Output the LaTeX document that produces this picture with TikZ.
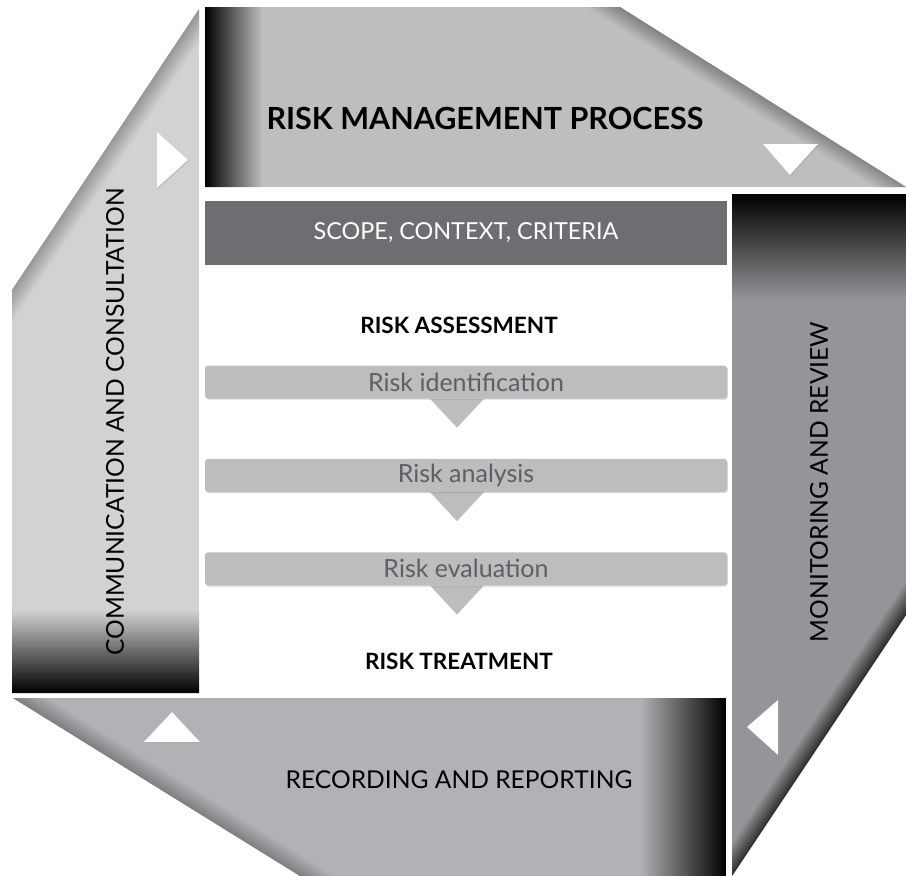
\documentclass[tikz,border=0pt]{standalone}
\usepackage{fontspec}
\setmainfont{Lato}
\usepackage{tikz}
\usetikzlibrary{backgrounds,calc,positioning,shadows}

\definecolor{bandtop}{HTML}{BDBEC0}
\definecolor{bandleft}{HTML}{D1D2D4}
\definecolor{bandright}{HTML}{939598}
\definecolor{bandbottom}{HTML}{B1B2B5}
\definecolor{slantdark}{HTML}{6A6B6D}
\definecolor{scopegray}{HTML}{6D6E71}
\definecolor{stepgray}{HTML}{BCBDBF}
\definecolor{steptext}{HTML}{5E5F62}

\begin{document}
\begin{tikzpicture}[x=1pt,y=-1pt]
  \tikzstyle{stepbox} = [fill=stepgray,rounded corners=3pt,minimum width=522pt,minimum height=33pt,inner sep=0pt,text=steptext,font=\fontsize{25}{27}\selectfont,drop shadow={opacity=.3,shadow xshift=.8pt,shadow yshift=-1.2pt}];
  \tikzstyle{stepdown} = [fill=stepgray];
  \tikzstyle{head} = [font=\fontsize{22.5}{25}\selectfont\bfseries];
  \tikzstyle{bandlabel} = [font=\fontsize{24.6}{27}\selectfont];
  \tikzset{flowtip/.style={fill=white,drop shadow={opacity=.35,shadow xshift=.8pt,shadow yshift=-.8pt}}};
  \useasboundingbox (0,0) rectangle (906,876);

  % top band
  \begin{scope}
    \clip (205,7) -- (620,7) -- (906,187) -- (205,187) -- cycle;
    \fill[bandtop] (205,7) rectangle (906,187);
    \foreach \i in {0,...,12} {
      \pgfmathtruncatemacro\p{75-\i*75/12}
      \draw[line width=2pt,slantdark!\p!bandtop,shift={(-0.845*\i,1.358*\i)}] (591,-11) -- (935,203);
    }
    \shade[left color=black,right color=bandtop] (205,7) rectangle (262,187);
  \end{scope}
  % left band
  \begin{scope}
    \clip (12,290) -- (199,9) -- (199,693) -- (12,693) -- cycle;
    \fill[bandleft] (12,9) rectangle (199,693);
    \foreach \i in {0,...,12} {
      \pgfmathtruncatemacro\p{60-\i*60/12}
      \draw[line width=2pt,slantdark!\p!bandleft,shift={(1.331*\i,0.888*\i)}] (-7,318) -- (218,-19);
    }
    \shade[top color=bandleft,bottom color=black] (12,610) rectangle (199,693);
  \end{scope}
  % right band
  \begin{scope}
    \clip (732,194) -- (906,194) -- (906,615) -- (732,876) -- cycle;
    \fill[bandright] (732,194) rectangle (906,876);
    \foreach \i in {0,...,12} {
      \pgfmathtruncatemacro\p{70-\i*70/12}
      \draw[line width=2pt,black!\p!bandright,shift={(-1.331*\i,-0.888*\i)}] (923,589) -- (715,902);
    }
    \shade[top color=black,bottom color=bandright] (732,194) rectangle (906,300);
  \end{scope}
  % bottom band
  \begin{scope}
    \clip (13,698) -- (726,698) -- (726,876) -- (300,876) -- cycle;
    \fill[bandbottom] (13,698) rectangle (726,876);
    \foreach \i in {0,...,12} {
      \pgfmathtruncatemacro\p{75-\i*75/12}
      \draw[line width=2pt,slantdark!\p!bandbottom,shift={(0.843*\i,-1.36*\i)}] (-16,680) -- (329,894);
    }
    \shade[left color=bandbottom,right color=black] (640,698) rectangle (726,876);
  \end{scope}

  % direction marks
  \fill[flowtip] (157,132) -- (188,160) -- (157,188) -- cycle;
  \fill[flowtip] (763,144) -- (818,144) -- (790,175) -- cycle;
  \fill[flowtip] (778,700) -- (778,755) -- (747,727) -- cycle;
  \fill[flowtip] (144,742) -- (200,742) -- (172,712) -- cycle;

  \node[font=\fontsize{30.5}{33}\selectfont\bfseries] (title) at (485,118) {RISK MANAGEMENT PROCESS};
  \node[bandlabel,rotate=90] (comm) at (115,422) {COMMUNICATION AND CONSULTATION};
  \node[bandlabel,rotate=90] (monitor) at (819,482) {MONITORING AND REVIEW};
  \node[bandlabel] (record) at (459,780) {RECORDING AND REPORTING};

  \node[font=\fontsize{23.4}{26}\selectfont,fill=scopegray,text=white,minimum width=522pt,minimum height=64pt] (scope) at (466,233) {SCOPE, CONTEXT, CRITERIA};
  \node[head] (assess) at (459,325) {RISK ASSESSMENT};
  \node[stepbox] (ident) at (466,382) {Risk identification};
  \node[stepbox,below=60pt of ident] (analysis) {Risk analysis};
  \node[stepbox,below=60pt of analysis] (evaluation) {Risk evaluation};
  \node[head] (treat) at (459,661) {RISK TREATMENT};
  \scoped[on background layer]{
    \foreach \s in {ident,analysis,evaluation}
      \fill[stepdown] ([xshift=-36pt]\s.south) -- ++(54,0) -- ++(-27,29) -- cycle;
  };
\end{tikzpicture}
\end{document}
